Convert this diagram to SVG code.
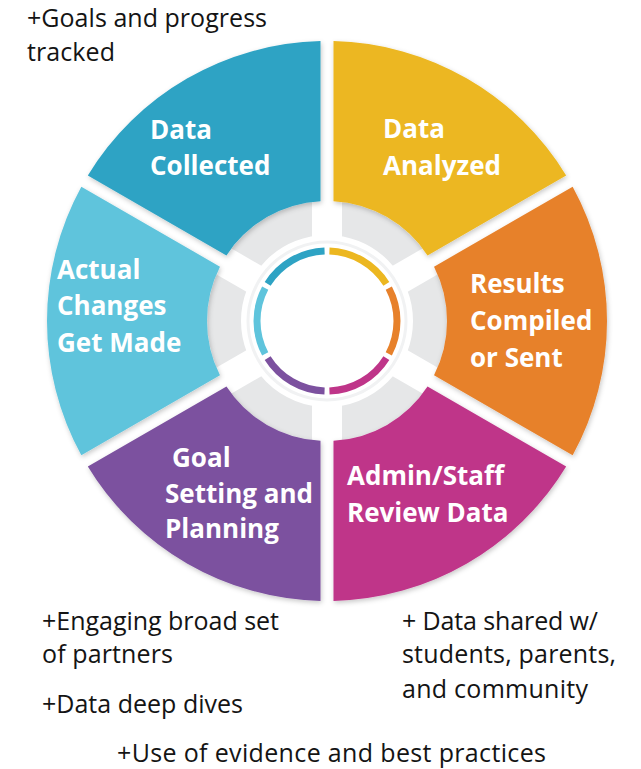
<svg xmlns="http://www.w3.org/2000/svg" width="641" height="769" viewBox="0 0 641 769">
<defs>
<style>
.lbl{font-family:"Open Sans","Liberation Sans",sans-serif;font-weight:700;font-size:26px;fill:#ffffff}
.note{font-family:"Open Sans","Liberation Sans",sans-serif;font-weight:400;font-size:25px;fill:#141414}
.arc{fill:none;stroke-width:7;stroke-linecap:butt}
.seg{filter:url(#sh)}
</style>
<filter id="sh" x="-10%" y="-10%" width="120%" height="120%">
<feDropShadow dx="1" dy="2" stdDeviation="2.5" flood-color="#000" flood-opacity="0.22"/>
</filter>
</defs>
<rect width="641" height="769" fill="#ffffff"/>

<g id="hub">
<circle cx="327" cy="321" r="103" fill="none" stroke="#E6E7E8" stroke-width="34"/>
<g stroke="#ffffff" stroke-width="30">
<line x1="327" y1="190" x2="327" y2="452"/>
<line x1="213.6" y1="255.5" x2="440.4" y2="386.5"/>
<line x1="213.6" y1="386.5" x2="440.4" y2="255.5"/>
</g>
<circle cx="327" cy="321" r="79" fill="none" stroke="#F1F2F3" stroke-width="3"/>
<path class="arc" stroke="#2EA3C4" d="M324.56,251.04 A70,70 0 0 0 267.64,283.91"/>
<path class="arc" stroke="#ECB720" d="M386.36,283.91 A70,70 0 0 0 329.44,251.04"/>
<path class="arc" stroke="#E7812B" d="M388.80,353.86 A70,70 0 0 0 388.80,288.14"/>
<path class="arc" stroke="#BF3589" d="M329.44,390.96 A70,70 0 0 0 386.36,358.09"/>
<path class="arc" stroke="#7C519F" d="M267.64,358.09 A70,70 0 0 0 324.56,390.96"/>
<path class="arc" stroke="#5FC4DC" d="M265.20,288.14 A70,70 0 0 0 265.20,353.86"/>
</g>

<g id="connectors"></g>

<g id="data-collected">
<path class="seg" fill="#2EA3C4" d="M320.5,41.08 A280,280 0 0 0 87.83,175.41 L226.48,255.46 A120,120 0 0 1 320.5,201.18 Z"/>
<text class="lbl" x="150" y="139">Data</text>
<text class="lbl" x="150" y="175">Collected</text>
</g>

<g id="data-analyzed">
<path class="seg" fill="#ECB720" d="M566.17,175.41 A280,280 0 0 0 333.5,41.08 L333.5,201.18 A120,120 0 0 1 427.52,255.46 Z"/>
<text class="lbl" x="383" y="138">Data</text>
<text class="lbl" x="383" y="175">Analyzed</text>
</g>

<g id="results-compiled">
<path class="seg" fill="#E7812B" d="M572.67,455.33 A280,280 0 0 0 572.67,186.67 L434.02,266.72 A120,120 0 0 1 434.02,375.28 Z"/>
<text class="lbl" x="470" y="293">Results</text>
<text class="lbl" x="470" y="330">Compiled</text>
<text class="lbl" x="470" y="367">or Sent</text>
</g>

<g id="admin-review">
<path class="seg" fill="#BF3589" d="M333.5,600.93 A280,280 0 0 0 566.17,466.59 L427.52,386.54 A120,120 0 0 1 333.5,440.82 Z"/>
<text class="lbl" x="347" y="485">Admin/Staff</text>
<text class="lbl" x="347" y="522">Review Data</text>
</g>

<g id="goal-setting">
<path class="seg" fill="#7C519F" d="M87.83,466.59 A280,280 0 0 0 320.5,600.93 L320.5,440.82 A120,120 0 0 1 226.48,386.54 Z"/>
<text class="lbl" x="172" y="467">Goal</text>
<text class="lbl" x="165" y="503">Setting and</text>
<text class="lbl" x="165" y="538">Planning</text>
</g>

<g id="actual-changes">
<path class="seg" fill="#5FC4DC" d="M81.33,186.67 A280,280 0 0 0 81.33,455.33 L219.98,375.28 A120,120 0 0 1 219.98,266.72 Z"/>
<text class="lbl" x="57" y="279">Actual</text>
<text class="lbl" x="57" y="315">Changes</text>
<text class="lbl" x="57" y="352">Get Made</text>
</g>

<g id="notes">
<text class="note" x="27" y="27" textLength="240" lengthAdjust="spacing">+Goals and progress</text>
<text class="note" x="27" y="61" textLength="88" lengthAdjust="spacing">tracked</text>
<text class="note" x="42" y="630" textLength="237" lengthAdjust="spacing">+Engaging broad set</text>
<text class="note" x="42" y="663" textLength="131" lengthAdjust="spacing">of partners</text>
<text class="note" x="42" y="713" textLength="201" lengthAdjust="spacing">+Data deep dives</text>
<text class="note" x="402" y="630" textLength="196" lengthAdjust="spacing">+ Data shared w/</text>
<text class="note" x="402" y="663" textLength="214" lengthAdjust="spacing">students, parents,</text>
<text class="note" x="402" y="698" textLength="186" lengthAdjust="spacing">and community</text>
<text class="note" x="117" y="762" textLength="429" lengthAdjust="spacing">+Use of evidence and best practices</text>
</g>
</svg>
